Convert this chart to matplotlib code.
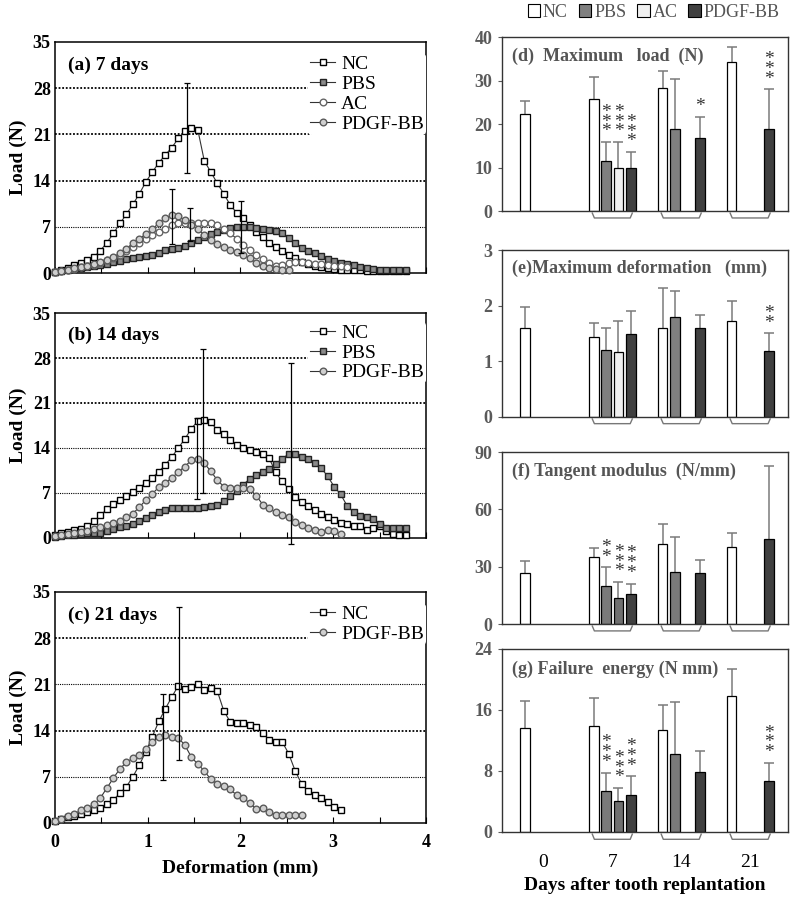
import numpy as np
import matplotlib
matplotlib.use("Agg")
import matplotlib.pyplot as plt
import matplotlib.transforms as mtransforms
from matplotlib.patches import Patch

plt.rcParams['font.family'] = ['Liberation Serif', 'DejaVu Serif']
nan = np.nan

# load-deformation curves, one reading every 0.07 mm
step = 0.07
a_nc = [0.2, 0.45, 0.8, 1.15, 1.5, 1.9, 2.4, 3.4, 4.6, 6.0,
        7.5, 8.9, 10.4, 12.0, 13.8, 15.3, 16.7, 17.9, 19.0, 20.4,
        21.5, 22.0, 21.7, 17.0, 15.3, 13.6, 12.0, 10.3, 9.1, 8.3,
        7.3, 6.2, 5.4, 4.6, 3.9, 3.3, 2.8, 2.2, 1.7, 1.4,
        1.1, 0.9, 0.7, 0.55, 0.5, 0.45, 0.4, 0.4, 0.35, 0.35,
        0.3, 0.3, 0.3, 0.3, 0.3]
a_pbs = [0.2, 0.35, 0.5, 0.65, 0.8, 0.95, 1.1, 1.25, 1.4, 1.6,
         1.8, 2.05, 2.25, 2.45, 2.6, 2.8, 3.1, 3.45, 3.7, 3.8,
         4.1, 4.6, 4.95, 5.4, 5.85, 6.2, 6.5, 6.8, 7.0, 7.0,
         6.9, 6.8, 6.6, 6.5, 6.3, 6.0, 5.3, 4.5, 3.8, 3.3,
         3.0, 2.6, 2.1, 1.8, 1.5, 1.3, 1.15, 0.95, 0.8, 0.6,
         0.5, 0.5, 0.5, 0.5, 0.5]
a_ac = [0.2, 0.35, 0.5, 0.65, 0.85, 1.05, 1.25, 1.5, 1.9, 2.3,
        2.8, 3.4, 4.0, 4.6, 5.2, 5.7, 6.2, 6.7, 7.2, 7.5,
        7.6, 7.6, 7.6, 7.6, 7.5, 7.2, 6.6, 6.0, 5.2, 4.3,
        3.5, 2.8, 2.1, 1.5, 1.1, 1.2, 1.5, 1.6, 1.6, 1.5,
        1.4, 1.3, 1.2, 1.1, 1.0, 0.9]
a_pdgf = [0.2, 0.35, 0.5, 0.7, 0.9, 1.1, 1.3, 1.6, 2.0, 2.4,
          3.0, 3.7, 4.5, 5.2, 5.9, 6.6, 7.6, 8.3, 8.8, 8.6,
          8.0, 7.3, 6.6, 5.8, 5.0, 4.4, 3.9, 3.5, 3.2, 2.8,
          2.2, 1.5, 1.1, 0.8, 0.6, 0.5, 0.5]

b_nc = [0.4, 0.7, 0.95, 1.2, 1.45, 1.85, 2.6, 3.5, 4.5, 5.3,
        5.95, 6.5, 7.1, 7.8, 8.6, 9.4, 10.3, 11.4, 12.6, 14.0,
        15.4, 17.0, 18.2, 18.3, 18.0, 16.8, 16.2, 15.2, 14.4, 14.0,
        13.7, 13.4, 13.1, 12.4, 10.2, 8.8, 7.6, 6.4, 5.6, 4.9,
        4.3, 3.8, 3.3, 2.8, 2.3, 2.1, 1.9, 1.8, 1.2, 1.5,
        1.9, 1.1, 0.6, 0.5, 0.5]
b_pbs = [0.2, 0.3, 0.4, 0.5, 0.6, 0.7, 0.75, 0.85, 1.1, 1.4,
         1.7, 1.9, 2.1, 2.6, 3.1, 3.6, 4.0, 4.4, 4.6, 4.7,
         4.7, 4.7, 4.7, 4.8, 4.9, 5.1, 5.7, 6.5, 7.3, 8.3,
         9.2, 9.8, 10.3, 10.8, 11.5, 12.3, 13.1, 13.0, 12.6, 12.3,
         11.7, 10.9, 9.6, 8.0, 6.8, 5.0, 4.0, 3.4, 3.2, 2.9,
         2.1, 1.6, 1.55, 1.55, 1.55]
b_pdgf = [0.3, 0.45, 0.6, 0.75, 0.9, 1.1, 1.4, 1.7, 2.0, 2.3,
          2.6, 3.2, 3.8, 4.8, 5.9, 6.9, 7.9, 8.6, 9.3, 10.3,
          11.1, 12.1, 12.3, 11.6, 10.4, 9.0, 8.0, 7.8, 7.7, 7.7,
          7.6, 6.6, 5.2, 4.6, 4.0, 3.6, 3.3, 2.5, 2.0, 1.6,
          1.3, 1.0, 1.3, 1.1, 0.6]

c_nc = [0.25, 0.6, 0.9, 1.1, 1.35, 1.6, 1.9, 2.3, 2.8, 3.5,
        4.5, 5.5, 7.0, 8.8, 10.8, 13.1, 15.4, 17.3, 19.1, 20.8,
        20.3, 20.6, 21.1, 20.2, 20.4, 20.0, 17.0, 15.3, 15.1, 15.1,
        14.9, 14.6, 13.6, 12.6, 12.3, 12.3, 10.5, 7.9, 5.9, 4.8,
        4.2, 3.8, 3.2, 2.4, 2.0]
c_pdgf = [0.3, 0.6, 1.0, 1.4, 1.9, 2.3, 2.8, 3.8, 5.3, 6.8,
          8.2, 9.2, 9.8, 10.3, 11.2, 12.2, 13.0, 13.3, 13.1, 12.9,
          11.8, 10.0, 8.9, 7.9, 6.6, 5.9, 5.6, 5.1, 4.2, 3.8,
          3.0, 2.1, 2.2, 1.7, 1.25, 1.25, 1.25, 1.25, 1.25]

# error bars on the curves: (deformation, load, sd)
a_err = [(1.42, 22.0, 6.8), (1.26, 8.6, 4.2), (1.46, 7.4, 2.5), (2.01, 7.0, 3.9)]
b_err = [(1.60, 18.2, 11.2), (1.53, 12.4, 6.3), (2.55, 13.2, 14.1)]
c_err = [(1.34, 21.1, 11.6), (1.16, 13.0, 6.5)]

# bar data, rows: NC, PBS, AC, PDGF-BB ; columns: day 0, 7, 14, 21
days = ['0', '7', '14', '21']
groups = ['NC', 'PBS', 'AC', 'PDGF-BB']
maxload_mean = [[22.3, 25.8, 28.2, 34.2], [nan, 11.6, 18.8, nan],
                [nan, 10.0, nan, nan], [nan, 10.0, 16.8, 18.8]]
maxload_sd = [[2.9, 4.9, 4.1, 3.5], [nan, 4.3, 11.5, nan],
              [nan, 5.9, nan, nan], [nan, 3.6, 4.9, 9.2]]
maxload_stars = [[0, 0, 0, 0], [0, 3, 0, 0], [0, 3, 0, 0], [0, 3, 1, 3]]

maxdef_mean = [[1.59, 1.44, 1.59, 1.72], [nan, 1.21, 1.79, nan],
               [nan, 1.16, nan, nan], [nan, 1.49, 1.59, 1.18]]
maxdef_sd = [[0.38, 0.25, 0.73, 0.37], [nan, 0.38, 0.48, nan],
             [nan, 0.56, nan, nan], [nan, 0.41, 0.25, 0.33]]
maxdef_stars = [[0, 0, 0, 0], [0, 0, 0, 0], [0, 0, 0, 0], [0, 0, 0, 2]]

modulus_mean = [[26.5, 35.2, 41.8, 40.4], [nan, 19.9, 27.0, nan],
                [nan, 13.4, nan, nan], [nan, 15.5, 26.5, 44.7]]
modulus_sd = [[6.4, 4.7, 10.8, 7.0], [nan, 10.0, 18.3, nan],
              [nan, 8.7, nan, nan], [nan, 5.7, 6.9, 37.8]]
modulus_stars = [[0, 0, 0, 0], [0, 2, 0, 0], [0, 3, 0, 0], [0, 3, 0, 0]]

energy_mean = [[13.7, 13.9, 13.4, 17.9], [nan, 5.4, 10.2, nan],
               [nan, 4.0, nan, nan], [nan, 4.8, 7.9, 6.7]]
energy_sd = [[3.5, 3.7, 3.2, 3.5], [nan, 2.4, 6.9, nan],
             [nan, 1.8, nan, nan], [nan, 2.5, 2.7, 2.4]]
energy_stars = [[0, 0, 0, 0], [0, 3, 0, 0], [0, 3, 0, 0], [0, 3, 0, 3]]

curve_style = {
    'NC': dict(marker='s', mfc='white', mec='black'),
    'PBS': dict(marker='s', mfc='#8a8a8a', mec='#222222'),
    'AC': dict(marker='o', mfc='white', mec='#666666'),
    'PDGF-BB': dict(marker='o', mfc='#cfcfcf', mec='#5a5a5a'),
}

fig = plt.figure(figsize=(7.99, 9.01), dpi=100)


def curve_panel(rect, series, names, errs, title, grid_lw, leg_anchor, xlabels=False):
    ax = fig.add_axes(rect)
    for vals, name in zip(series, names):
        x = np.arange(len(vals)) * step
        ax.plot(x, vals, color='#333333', lw=0.8, ms=4.8, mew=1.0, label=name,
                clip_on=False, zorder=3, **curve_style[name])
    for x0, y0, sd in errs:
        ax.errorbar(x0, y0, yerr=sd, fmt='none', ecolor='black', elinewidth=0.9,
                    capsize=2.5, capthick=0.9, zorder=4, clip_on=False)
    for yv, lw in zip([7, 14, 21, 28], grid_lw):
        ax.axhline(yv, color='black', lw=lw, ls=(0, (1, 1)), zorder=0)
    ax.set_xlim(0, 4)
    ax.set_ylim(0, 35)
    ax.set_yticks([0, 7, 14, 21, 28, 35])
    ax.set_yticklabels(['0', '7', '14', '21', '28', '35'], fontsize=13, fontweight='bold')
    ax.set_xticks(np.arange(0, 4.01, 0.5))
    if xlabels:
        ax.set_xticklabels(['0', '', '1', '', '2', '', '3', '', '4'], fontsize=13, fontweight='bold')
        ax.set_xlabel('Deformation (mm)', fontsize=14, fontweight='bold', labelpad=6)
    else:
        ax.set_xticklabels([])
    ax.tick_params(axis='x', direction='in', length=4, pad=8)
    ax.tick_params(axis='y', length=0, pad=3)
    ax.set_ylabel('Load (N)', fontsize=14, fontweight='bold', labelpad=4)
    for sp in ax.spines.values():
        sp.set_linewidth(1.1)
    ax.text(0.035, 0.9, title, transform=ax.transAxes, fontsize=14, fontweight='bold',
            va='center', ha='left')
    ax.legend(loc='upper right', bbox_to_anchor=leg_anchor, fontsize=14, frameon=True,
              facecolor='white', edgecolor='none', framealpha=1, handlelength=1.3,
              handletextpad=0.3, labelspacing=0.12, borderpad=0.1, borderaxespad=0)
    return ax


curve_panel((0.0688, 0.697, 0.4643, 0.2564), [a_nc, a_pbs, a_ac, a_pdgf],
            ['NC', 'PBS', 'AC', 'PDGF-BB'], a_err, '(a) 7 days',
            [0.8, 1.3, 1.3, 1.3], (1.0, 0.95))
curve_panel((0.0688, 0.4029, 0.4643, 0.2497), [b_nc, b_pbs, b_pdgf],
            ['NC', 'PBS', 'PDGF-BB'], b_err, '(b) 14 days',
            [0.8, 0.8, 1.3, 1.3], (1.0, 0.96))
curve_panel((0.0688, 0.0866, 0.4643, 0.2564), [c_nc, c_pdgf],
            ['NC', 'PDGF-BB'], c_err, '(c) 21 days',
            [0.8, 1.3, 0.8, 1.3], (1.0, 0.95), xlabels=True)


def bar_panel(rect, means, sds, stars, colors, title, ymax, yticks, xlabels=False):
    ax = fig.add_axes(rect)
    slot, width = 0.18, 0.14
    xg = np.arange(len(days))
    for k in range(len(groups)):
        x = xg + (k - 1.5) * slot
        m = np.array(means[k])
        s = np.array(sds[k])
        n = np.array(stars[k])
        ok = ~np.isnan(m)
        ax.vlines(x[ok], m[ok], m[ok] + s[ok], color='#7a7a7a', lw=1.1, zorder=1)
        ax.plot(x[ok], m[ok] + s[ok], ls='none', marker='_', ms=7, mew=1.1,
                color='#7a7a7a', zorder=1)
        ax.bar(x[ok], m[ok], width, color=colors[k], edgecolor='black', lw=0.9, zorder=2)
        for xi, top, cnt in zip(x[ok], (m + s)[ok], n[ok]):
            if cnt:
                ax.annotate('\n'.join(['*'] * cnt), (xi, top), xytext=(0, 1),
                            textcoords='offset points', ha='center', va='bottom',
                            fontsize=14, linespacing=0.45, color='#333333')
    trans = mtransforms.blended_transform_factory(ax.transData, ax.transAxes)
    for g in xg[1:]:
        ax.plot([g - 0.29, g - 0.26, g + 0.26, g + 0.29], [-0.012, -0.04, -0.04, -0.012],
                transform=trans, color='#777777', lw=1.0, clip_on=False)
    ax.set_xlim(-0.6, 3.55)
    ax.set_ylim(0, ymax)
    ax.set_yticks(yticks)
    ax.set_yticklabels([str(v) for v in yticks], fontsize=13, fontweight='bold', color='#5a5a5a')
    ax.set_xticks(xg)
    if xlabels:
        ax.set_xticklabels(days, fontsize=14)
        ax.set_xlabel('Days after tooth replantation', fontsize=14, fontweight='bold', labelpad=4)
    else:
        ax.set_xticklabels([])
    ax.tick_params(axis='x', length=0, pad=16)
    ax.tick_params(axis='y', length=3, color='#5a5a5a', pad=4)
    for sp in ax.spines.values():
        sp.set_color('#333333')
        sp.set_linewidth(1.0)
    ax.text(0.034, 0.89, title, transform=ax.transAxes, fontsize=13, fontweight='bold',
            color='#555555', va='center', ha='left')
    return ax


light = ['white', '#7f7f7f', '#f0f0f0', '#404040']
dark = ['white', '#7a7a7a', '#6f6f6f', '#404040']
bar_panel((0.6283, 0.7658, 0.358, 0.1931), maxload_mean, maxload_sd, maxload_stars, light,
          '(d)  Maximum   load  (N)', 40, [0, 10, 20, 30, 40])
bar_panel((0.6283, 0.5372, 0.358, 0.1853), maxdef_mean, maxdef_sd, maxdef_stars, light,
          '(e)Maximum deformation   (mm)', 3, [0, 1, 2, 3])
bar_panel((0.6283, 0.3074, 0.358, 0.1909), modulus_mean, modulus_sd, modulus_stars, dark,
          '(f) Tangent modulus  (N/mm)', 90, [0, 30, 60, 90])
bar_panel((0.6283, 0.0766, 0.358, 0.2031), energy_mean, energy_sd, energy_stars, dark,
          '(g) Failure  energy (N mm)', 24, [0, 8, 16, 24], xlabels=True)

handles = [Patch(facecolor=c, edgecolor='black', lw=0.8) for c in light]
fig.legend(handles, groups, loc='center', bbox_to_anchor=(0.818, 0.986), ncol=4,
           frameon=False, fontsize=13, labelcolor='#555555', handlelength=0.7,
           handleheight=0.7, handletextpad=0.15, columnspacing=0.6)

fig.savefig('out.png', dpi=100)
